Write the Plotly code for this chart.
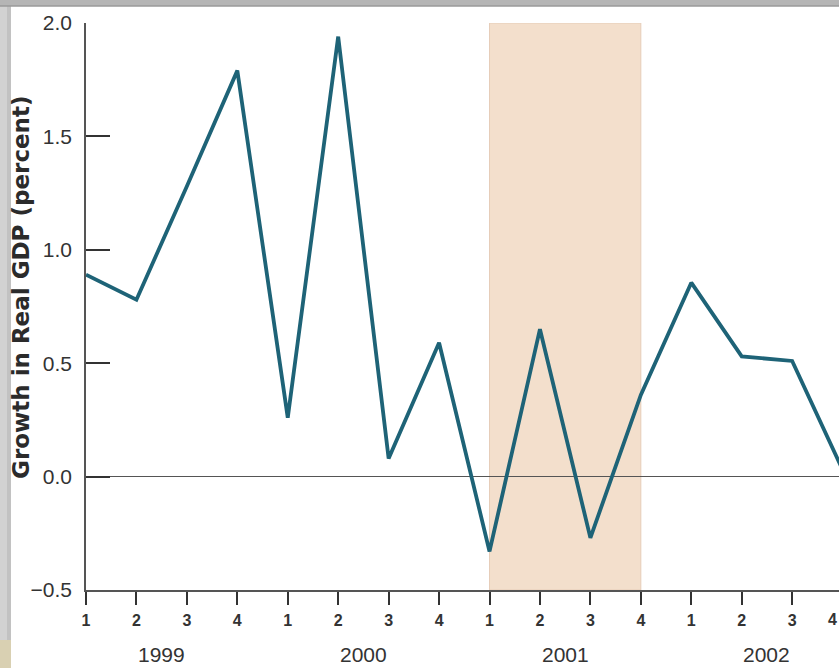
import plotly.graph_objects as go

quarters = ["1", "2", "3", "4"] * 4
years = ["1999", "2000", "2001", "2002"]
growth = [0.89, 0.78, 1.28, 1.79, 0.26, 1.94, 0.08, 0.59,
          -0.33, 0.65, -0.27, 0.36, 0.855, 0.53, 0.51, 0.03]
y_ticks = [-0.5, 0.0, 0.5, 1.0, 1.5, 2.0]
y_tick_text = ["\u22120.5", "0.0", "0.5", "1.0", "1.5", "2.0"]
recession = [8, 11]  # 2001 Q1 to 2001 Q4

x_idx = list(range(len(growth)))

W, H = 839, 668
L, R, T, B = 86, 0, 23, 78
pw = W - L - R
ph = H - T - B
step = 50.44

def px_x(p):
    return (p - L) / pw

def px_y(p):
    return (H - B - p) / ph

fig = go.Figure()
fig.add_trace(go.Scatter(
    x=x_idx, y=growth, mode="lines",
    line=dict(color="#1e6377", width=3.8),
    cliponaxis=False, showlegend=False, hoverinfo="skip"))

shapes = [
    dict(type="rect", xref="x", yref="y", x0=recession[0], x1=recession[1],
         y0=-0.5, y1=2.0, fillcolor="#f3dfcc", line=dict(color="#e6cdb8", width=1),
         layer="below"),
    dict(type="rect", xref="paper", yref="paper", x0=px_x(0), x1=px_x(7),
         y0=px_y(H), y1=px_y(0), fillcolor="#d2d2d2", line=dict(width=0)),
    dict(type="rect", xref="paper", yref="paper", x0=px_x(7), x1=px_x(11),
         y0=px_y(H), y1=px_y(0), fillcolor="#c2c2c2", line=dict(width=0)),
    dict(type="rect", xref="paper", yref="paper", x0=px_x(0), x1=px_x(11),
         y0=px_y(H), y1=px_y(640), fillcolor="#d9d0b2", line=dict(width=0)),
    dict(type="rect", xref="paper", yref="paper", x0=px_x(0), x1=px_x(W),
         y0=px_y(6), y1=px_y(0), fillcolor="#b5b5b5", line=dict(width=0)),
    dict(type="line", xref="paper", yref="paper", x0=px_x(0), x1=px_x(W),
         y0=px_y(6), y1=px_y(6), line=dict(color="#9a9a9a", width=1.5)),
]

annotations = []
for i, yr in enumerate(years):
    annotations.append(dict(
        x=4 * i + 1.5, y=px_y(654), xref="x", yref="paper", text=yr,
        showarrow=False, font=dict(family="Liberation Sans", size=21, color="#333333"),
        xanchor="center", yanchor="middle"))
annotations.append(dict(
    x=px_x(21), y=px_y(287), xref="paper", yref="paper",
    text="<b>Growth in Real GDP (percent)</b>", textangle=-90, showarrow=False,
    font=dict(family="DejaVu Sans", size=23, color="#2b2b2b"),
    xanchor="center", yanchor="middle"))
# partially visible last quarter label at the right edge
annotations.append(dict(
    x=1.0, y=px_y(619), xref="paper", yref="paper", text="<b>4</b>",
    showarrow=False, font=dict(family="Liberation Sans", size=16, color="#333333"),
    xanchor="right", yanchor="middle"))

fig.update_layout(
    width=W, height=H,
    margin=dict(l=L, r=R, t=T, b=B),
    paper_bgcolor="white", plot_bgcolor="white",
    shapes=shapes, annotations=annotations,
    xaxis=dict(
        range=[0, pw / step], tickmode="array", tickvals=x_idx, ticktext=quarters,
        ticks="outside", ticklen=13, tickwidth=1.5, tickcolor="#333333",
        showline=True, linecolor="#555555", linewidth=1.5,
        showgrid=False, zeroline=False,
        tickfont=dict(family="Liberation Sans", size=16, color="#333333", weight="bold"),
        ticklabelstandoff=2,
    ),
    yaxis=dict(
        range=[-0.5, 2.0], tickmode="array", tickvals=y_ticks, ticktext=y_tick_text,
        ticks="inside", ticklen=24, tickwidth=1.5, tickcolor="#333333",
        showline=True, linecolor="#555555", linewidth=1.5,
        showgrid=False, zeroline=True, zerolinecolor="#555555", zerolinewidth=1.2,
        tickfont=dict(family="Liberation Sans", size=21, color="#333333"),
        ticklabelstandoff=8,
    ),
)

fig.write_html("out.html")
